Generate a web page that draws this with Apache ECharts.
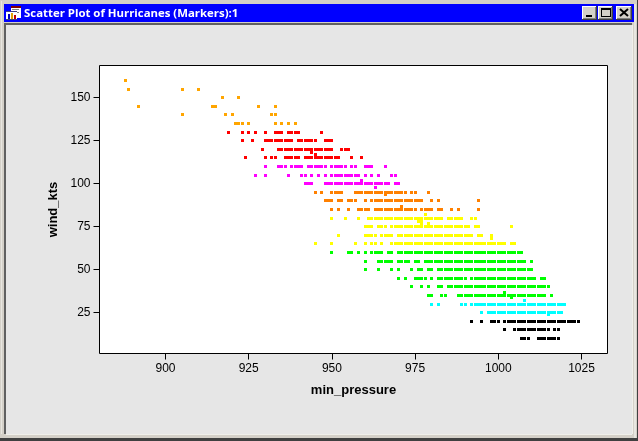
<!DOCTYPE html>
<html>
<head>
<meta charset="utf-8">
<title>Scatter Plot of Hurricanes (Markers):1</title>
<style>html,body{margin:0;padding:0;background:#d4d0c8}#main{width:638px;height:441px}</style>
<script src="https://cdn.jsdelivr.net/npm/echarts@6/dist/echarts.min.js"></script>
</head>
<body>
<div id="main"></div>
<script>
// Each row: [wind_kts, [min_pressure, ...]]
const category5 = [
  [160, [888]],
  [155, [889, 905, 910]],
  [150, [917, 922]],
  [145, [892, 914, 915, 928, 933]],
  [140, [905, 918, 920, 932, 933]],
  [135, [921, 922, 923, 925, 933, 935, 937, 939]]
];
const category4 = [
  [130, [919, 923, 925, 927, 930, 933, 934, 935, 937, 938, 939, 940, 947]],
  [125, [923, 926, 930, 931, 932, 933, 934, 935, 936, 937, 938, 940, 941, 942, 943, 944, 945, 948, 949, 950]],
  [120, [929, 934, 935, 936, 937, 938, 939, 940, 941, 942, 943, 944, 945, 946, 947, 948, 949, 950, 953, 954, 955]],
  [118, [944]],
  [117, [945]],
  [115, [924, 930, 932, 933, 936, 937, 938, 939, 940, 942, 943, 944, 945, 946, 947, 948, 949, 950, 951, 952, 956, 959]]
];
const category3 = [
  [110, [930, 934, 935, 936, 938, 939, 940, 941, 943, 944, 945, 946, 947, 948, 950, 951, 952, 953, 954, 956, 957, 960, 961, 962, 966]],
  [105, [927, 930, 937, 941, 942, 944, 946, 948, 950, 951, 952, 953, 954, 955, 956, 957, 958, 960, 962, 964, 968, 969]],
  [102, [959]],
  [100, [942, 943, 944, 948, 949, 950, 951, 952, 953, 954, 955, 956, 957, 958, 959, 960, 961, 962, 963, 964, 965, 966, 967, 969, 970]],
  [98, [963]]
];
const category2 = [
  [95, [945, 947, 950, 951, 952, 953, 957, 958, 959, 960, 961, 962, 963, 964, 965, 966, 967, 968, 969, 970, 971, 972, 974, 975, 979]],
  [94, [966]],
  [90, [948, 949, 950, 952, 953, 955, 956, 957, 960, 962, 963, 964, 965, 966, 967, 968, 969, 970, 971, 972, 973, 974, 975, 976, 977, 980, 982, 994]],
  [87, [971]],
  [85, [950, 952, 955, 958, 959, 960, 961, 963, 964, 965, 966, 967, 968, 969, 970, 971, 972, 973, 974, 975, 977, 978, 979, 980, 982, 983, 986, 988, 994]]
];
const category1 = [
  [82, [978]],
  [80, [950, 954, 958, 961, 962, 963, 964, 965, 966, 967, 968, 969, 970, 971, 972, 973, 974, 975, 976, 977, 978, 979, 980, 981, 982, 983, 985, 986, 987, 988, 989, 992, 993]],
  [78, [976, 977]],
  [77, [977, 979]],
  [75, [960, 961, 962, 964, 965, 966, 968, 969, 970, 971, 972, 973, 974, 975, 976, 977, 978, 979, 980, 981, 982, 983, 984, 985, 986, 987, 988, 989, 990, 991, 993, 994, 1004]],
  [70, [952, 960, 961, 962, 963, 965, 966, 967, 968, 970, 971, 972, 973, 974, 975, 976, 977, 978, 979, 980, 981, 982, 983, 984, 985, 986, 987, 988, 989, 990, 991, 992, 994, 995, 998]],
  [68, [998]],
  [65, [945, 950, 957, 960, 962, 963, 965, 968, 969, 970, 971, 972, 973, 974, 975, 976, 977, 978, 979, 980, 981, 982, 983, 984, 985, 986, 987, 988, 989, 990, 991, 992, 993, 994, 995, 996, 997, 998, 999, 1000, 1001, 1002, 1004, 1005]]
];
const tropicalStorm = [
  [60, [950, 955, 956, 958, 960, 962, 963, 964, 965, 967, 968, 970, 971, 972, 973, 974, 975, 976, 977, 978, 979, 980, 981, 982, 983, 984, 985, 986, 987, 988, 989, 990, 991, 992, 993, 994, 995, 996, 997, 998, 999, 1000, 1001, 1002, 1003, 1004, 1005, 1006, 1007]],
  [55, [960, 964, 965, 966, 967, 968, 970, 971, 972, 973, 975, 976, 978, 979, 980, 981, 982, 983, 984, 985, 986, 987, 988, 989, 990, 991, 992, 993, 994, 995, 996, 997, 998, 999, 1000, 1001, 1002, 1003, 1004, 1005, 1006, 1007, 1008, 1010]],
  [50, [960, 964, 968, 970, 974, 976, 977, 979, 980, 982, 983, 984, 985, 986, 987, 988, 989, 990, 991, 992, 993, 994, 995, 996, 997, 998, 999, 1000, 1001, 1002, 1003, 1004, 1005, 1006, 1007, 1008, 1009, 1010]],
  [45, [970, 972, 975, 976, 977, 978, 980, 982, 983, 984, 985, 986, 987, 988, 989, 990, 992, 993, 994, 995, 996, 997, 998, 999, 1000, 1001, 1002, 1003, 1004, 1005, 1006, 1007, 1008, 1009, 1010, 1011, 1013, 1014]],
  [40, [974, 977, 979, 982, 983, 985, 986, 987, 988, 989, 990, 991, 992, 993, 994, 995, 996, 997, 998, 999, 1000, 1001, 1002, 1003, 1004, 1005, 1006, 1007, 1008, 1009, 1010, 1011, 1012, 1013, 1014, 1015]],
  [37, [1002]],
  [35, [979, 980, 983, 984, 988, 989, 990, 991, 992, 993, 994, 995, 996, 997, 998, 999, 1000, 1001, 1002, 1003, 1004, 1005, 1006, 1007, 1008, 1009, 1010, 1011, 1012, 1013, 1014, 1016]],
  [34, [1004]]
];
const tropicalDepression = [
  [32, [1008]],
  [30, [980, 982, 989, 990, 992, 993, 994, 995, 996, 997, 998, 999, 1000, 1001, 1002, 1003, 1004, 1005, 1006, 1007, 1008, 1009, 1010, 1011, 1012, 1013, 1014, 1015, 1016, 1017, 1018, 1019, 1020]],
  [25, [995, 997, 998, 999, 1000, 1001, 1002, 1003, 1004, 1005, 1006, 1007, 1008, 1009, 1010, 1011, 1012, 1013, 1014, 1015, 1016, 1017, 1018, 1019]],
  [24, [1015]]
];
const weakSystem = [
  [20, [992, 995, 998, 999, 1000, 1002, 1003, 1004, 1005, 1006, 1007, 1008, 1009, 1010, 1011, 1012, 1013, 1014, 1015, 1016, 1017, 1018, 1019, 1020, 1021, 1022, 1023, 1024]],
  [15, [1002, 1005, 1006, 1007, 1008, 1009, 1010, 1011, 1012, 1013, 1014, 1015, 1017, 1018]],
  [10, [1007, 1008, 1009, 1012, 1013, 1014, 1015, 1016, 1017, 1018]]
];

const xTicks = [900, 925, 950, 975, 1000, 1025];
const yTicks = [25, 50, 75, 100, 125, 150];

const groups = [
  ['Category 5', category5, '#ffa500'],
  ['Category 4', category4, '#ff0000'],
  ['Category 3', category3, '#ff00ff'],
  ['Category 2', category2, '#ff8000'],
  ['Category 1', category1, '#ffff00'],
  ['Tropical storm', tropicalStorm, '#00ff00'],
  ['Tropical depression', tropicalDepression, '#00ffff'],
  ['Other', weakSystem, '#000000']
];

function flatten(rows) {
  const out = [];
  rows.forEach(function (r) {
    r[1].forEach(function (p) { out.push([p, r[0]]); });
  });
  return out;
}

// 3px square markers snapped to whole pixels so they stay crisp.
function squareMarker(params, api) {
  const c = api.coord([api.value(0), api.value(1)]);
  return {
    type: 'rect',
    shape: { x: Math.round(c[0] - 1.5), y: Math.round(c[1] - 1.5), width: 3, height: 3 },
    style: { fill: api.visual('color') }
  };
}

function box(x, y, w, h, fill) {
  return { type: 'rect', silent: true, shape: { x: x, y: y, width: w, height: h }, style: { fill: fill } };
}

// Window frame, caption bar, caption icon and buttons.
function button(x, w) {
  return [
    box(x, 6, w, 14, '#404040'),
    box(x, 6, w - 1, 13, '#ffffff'),
    box(x + 1, 7, w - 2, 12, '#808080'),
    box(x + 1, 7, w - 3, 11, '#d4d0c8')
  ];
}
const chrome = [].concat(
  box(0, 0, 638, 4, '#d4d0c8'),
  box(0, 0, 4, 441, '#d4d0c8'),
  box(1, 1, 1, 437, '#e8e6e0'),
  box(632, 0, 6, 441, '#d4d0c8'),
  box(0, 434, 638, 4, '#d4d0c8'),
  box(6, 434, 626, 1, '#f0efea'),
  box(632, 25, 1, 409, '#f0efea'),
  box(634, 4, 2, 434, '#e8e6e0'),
  box(0, 438, 638, 3, '#404040'),
  box(637, 0, 1, 441, '#404040'),
  box(4, 4, 630, 18, '#0000ff'),
  box(4, 22, 630, 1, '#d4d0c8'),
  box(4, 23, 628, 2, '#606060'),
  box(4, 23, 2, 411, '#606060'),
  // caption icon
  box(11, 6, 10, 12, '#ffffff'),
  box(11, 6, 10, 2, '#800000'),
  box(12, 9, 7, 1, '#808080'),
  box(12, 12, 7, 1, '#808080'),
  box(6, 11, 11, 9, '#ffffff'),
  box(6, 11, 11, 1, '#404080'),
  box(6, 19, 11, 1, '#404080'),
  box(8, 14, 2, 5, '#0000c0'),
  box(11, 13, 2, 6, '#e0a000'),
  box(14, 15, 2, 4, '#c00000'),
  button(582, 15),
  button(598, 15),
  button(616, 16),
  box(586, 15, 6, 2, '#000000'),
  box(601, 8, 10, 2, '#000000'),
  box(601, 8, 1, 9, '#000000'),
  box(610, 8, 1, 9, '#000000'),
  box(601, 16, 10, 1, '#000000'),
  { type: 'line', silent: true, shape: { x1: 620, y1: 9, x2: 628, y2: 16 }, style: { stroke: '#000000', lineWidth: 2 } },
  { type: 'line', silent: true, shape: { x1: 628, y1: 9, x2: 620, y2: 16 }, style: { stroke: '#000000', lineWidth: 2 } },
  { type: 'text', silent: true, x: 24, y: 8,
    style: { text: 'Scatter Plot of Hurricanes (Markers):1', fill: '#ffffff',
             font: 'bold 11.4px "Open Sans", sans-serif', textVerticalAlign: 'top' } }
);

const axisFont = { color: '#000000', fontFamily: '"Liberation Sans", Arial, sans-serif', fontSize: 12 };
const nameFont = { color: '#000000', fontFamily: '"Liberation Sans", Arial, sans-serif', fontSize: 13, fontWeight: 'bold' };

function plainNumber(v) { return String(v); }

const chart = echarts.init(document.getElementById('main'), null, { renderer: 'canvas' });
chart.setOption({
  animation: false,
  backgroundColor: '#e6e6e6',
  graphic: { elements: chrome },
  grid: {
    show: true, left: 99.5, top: 65.5, width: 508, height: 288,
    backgroundColor: '#ffffff', borderColor: '#000000', borderWidth: 1
  },
  xAxis: {
    type: 'value', min: 880.17, max: 1032.81,
    name: 'min_pressure', nameLocation: 'middle', nameGap: 30, nameTextStyle: nameFont,
    splitLine: { show: false },
    axisLine: { show: false },
    axisTick: { show: true, length: 6, customValues: xTicks, lineStyle: { color: '#000000', width: 1 } },
    axisLabel: Object.assign({ margin: 9, customValues: xTicks, formatter: plainNumber }, axisFont)
  },
  yAxis: {
    type: 'value', min: 1.28, max: 168.72,
    name: 'wind_kts', nameLocation: 'middle', nameGap: 40, nameTextStyle: nameFont,
    splitLine: { show: false },
    axisLine: { show: false },
    axisTick: { show: true, length: 6, customValues: yTicks, lineStyle: { color: '#000000', width: 1 } },
    axisLabel: Object.assign({ margin: 9, customValues: yTicks, formatter: plainNumber }, axisFont)
  },
  series: groups.map(function (g) {
    return {
      name: g[0], type: 'custom', renderItem: squareMarker,
      encode: { x: 0, y: 1 }, data: flatten(g[1]),
      itemStyle: { color: g[2] }, clip: true
    };
  })
});
</script>
</body>
</html>
